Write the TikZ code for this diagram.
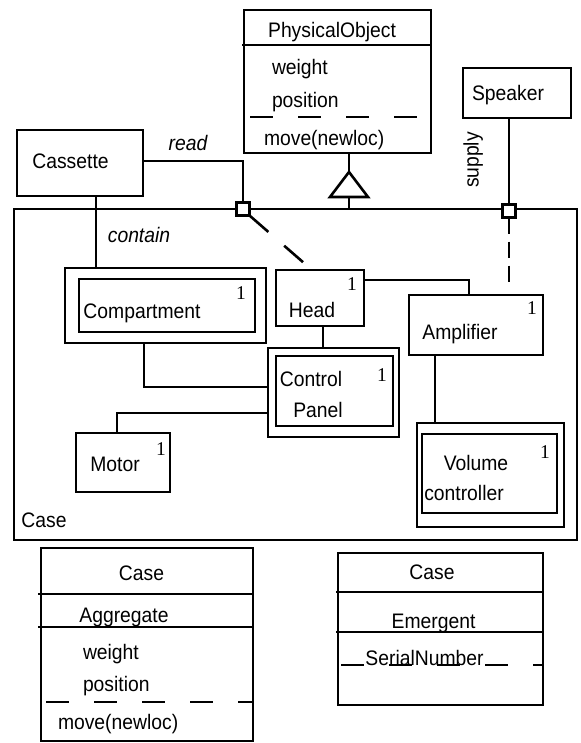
\documentclass[tikz,border=0pt]{standalone}
\usepackage{fontspec}
\setmainfont[FakeStretch=0.92]{Liberation Sans}
\newfontfamily\numfont{Liberation Serif}

\begin{document}
\begin{tikzpicture}[x=1pt,y=-1pt,
  every node/.style={inner sep=0pt, outer sep=0pt},
  ln/.style={line width=2.6pt},
  box/.style 2 args={draw, line width=2.6pt, minimum width=#1, minimum height=#2},
  port/.style={draw, fill=white, line width=2.4pt, minimum size=13pt},
  lbl/.style={font=\fontsize{21}{24}\selectfont, text height=15pt, text depth=0pt},
  ital/.style={font=\fontsize{21}{24}\selectfont\itshape, text height=15pt, text depth=0pt},
  num/.style={font=\numfont\fontsize{19.5}{22}\selectfont, text height=13pt, text depth=0pt},
  sepdash/.style={line width=2.6pt, dash pattern=on 23pt off 25pt}]

\useasboundingbox (0,0) rectangle (580,743);

% ---------- the Case container ----------
\node[box={563pt}{331pt}] (case) at (295.5,374.5) {};
\node[lbl] (caselbl) at (44,520) {Case};

% ---------- PhysicalObject class ----------
\node[box={187pt}{143pt}] (phys) at (337.5,81.5) {};
\draw[ln] (242,45) -- (phys.east |- 0,45);
\node[lbl] (physname) at (332,30) {PhysicalObject};
\node[lbl, anchor=west] (physw) at (272,67) {weight};
\node[lbl, anchor=west] (physp) at (272,100) {position};
\draw[sepdash] (250,117) -- (phys.east |- 0,117);
\node[lbl, anchor=west] (physm) at (264,138) {move(newloc)};

% generalisation triangle
\coordinate (apex) at (349,172);
\coordinate (bl) at (330,197);
\coordinate (br) at (368,197);
\coordinate (bm) at (349,197);
\draw[ln] (phys.south -| apex) -- (apex);
\draw[ln, line join=miter] (apex) -- (bl) -- (br) -- cycle;
\draw[ln] (bm) -- (case.north -| bm);

% ---------- outside classes ----------
\node[box={126pt}{66pt}] (cassette) at (80,163) {};
\node[lbl] (cassettelbl) at (70.5,161) {Cassette};
\node[box={108pt}{50pt}] (speaker) at (517,93) {};
\node[lbl] (speakerlbl) at (508,93) {Speaker};

% ---------- parts inside Case ----------
\node[box={201pt}{75pt}] (compout) at (165.5,305.5) {};
\node[box={176pt}{53pt}] (compin) at (167,305.5) {};
\node[lbl] (complbl) at (142,311) {Compartment};
\node[num] (compn) at (241,293) {1};

\node[box={88pt}{56pt}] (head) at (320,298) {};
\node[lbl] (headlbl) at (312,310) {Head};
\node[num] (headn) at (352,284) {1};

\node[box={134pt}{60pt}] (amp) at (476,325) {};
\node[lbl] (amplbl) at (460,332) {Amplifier};
\node[num] (ampn) at (532,308) {1};

\node[box={131pt}{89pt}] (cpout) at (333.5,392.5) {};
\node[box={117pt}{70pt}] (cpin) at (334.5,391) {};
\node[lbl] (cplbl1) at (311,379) {Control};
\node[lbl] (cplbl2) at (318,410) {Panel};
\node[num] (cpn) at (382,375) {1};

\node[box={94pt}{59pt}] (motor) at (123,462.5) {};
\node[lbl] (motorlbl) at (115,464) {Motor};
\node[num] (motorn) at (161,449) {1};

\node[box={147pt}{104pt}] (volout) at (490.5,475) {};
\node[box={135pt}{79pt}] (volin) at (489.5,473.5) {};
\node[lbl] (vollbl1) at (476,463) {Volume};
\node[lbl] (vollbl2) at (464,493) {controller};
\node[num] (voln) at (545,452) {1};

% ---------- ports on the Case boundary ----------
\node[port] (rport) at (243,209) {};
\node[port] (sport) at (509,211) {};

% ---------- connectors ----------
\draw[ln] ([yshift=2pt]cassette.east) -| (rport.north);
\node[ital] (readlbl) at (188,143) {read};

\coordinate (cc) at ([xshift=16pt]cassette.south);
\draw[ln] (cc) -- (cc |- compout.north);
\node[ital] (containlbl) at (139,235) {contain};

\draw[ln, dash pattern=on 25pt off 21pt, shorten >=11pt]
  (rport.south east) -- ([xshift=-8pt]head.north);

\draw[ln] (speaker.south -| sport) -- (sport.north);
\node[lbl, rotate=90] (supplylbl) at (471,160) {supply};
\draw[ln, dash pattern=on 16pt off 8pt, shorten >=12pt]
  (sport.south) -- (amp.north -| sport);

\draw[ln] ([yshift=18pt]head.east) -| ([xshift=-7pt]amp.north);

\coordinate (h1) at ([xshift=3pt]head.south);
\draw[ln] (h1) -- (h1 |- cpout.north);

\coordinate (c1) at ([xshift=-21.5pt]compout.south);
\draw[ln] (c1) |- ([yshift=5.5pt]cpout.west);

\coordinate (m1) at ([xshift=-6pt]motor.north);
\draw[ln] (m1) |- ([yshift=-20.5pt]cpout.west);

\coordinate (a1) at ([xshift=-41pt]amp.south);
\draw[ln] (a1) -- (a1 |- volout.north);

% redraw ports over the line ends
\node[port] at (rport) {};
\node[port] at (sport) {};

% ---------- Case as an aggregate ----------
\node[box={212pt}{193pt}] (agg) at (147,644.5) {};
\draw[ln] (38,594) -- (agg.east |- 0,594);
\draw[ln] (38,627) -- (agg.east |- 0,627);
\node[lbl] (aggname) at (141.5,573) {Case};
\node[lbl] (aggkind) at (124,615) {Aggregate};
\node[lbl, anchor=west] (aggw) at (83,652) {weight};
\node[lbl, anchor=west] (aggp) at (83,684) {position};
\draw[sepdash] (46,702) -- (agg.east |- 0,702);
\node[lbl, anchor=west] (aggm) at (58,722) {move(newloc)};

% ---------- Case as an emergent class ----------
\node[box={205pt}{152pt}] (emg) at (440.5,629) {};
\draw[ln] (336,592) -- (emg.east |- 0,592);
\draw[ln] (336,632) -- (emg.east |- 0,632);
\node[lbl] (emgname) at (432,572) {Case};
\node[lbl] (emgkind) at (433.5,621) {Emergent};
\node[lbl] (emgattr) at (424.5,658) {SerialNumber};
\draw[sepdash] (341,665) -- (emg.east |- 0,665);

\end{tikzpicture}
\end{document}
